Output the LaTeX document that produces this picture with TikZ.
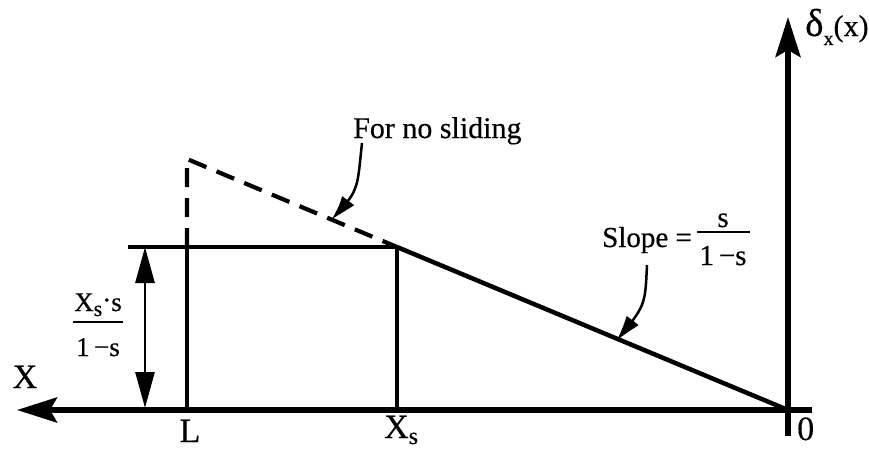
\documentclass[tikz,border=0pt]{standalone}
\usepackage{fontspec}
\setmainfont{Liberation Serif}[FakeBold=0.4]
\usetikzlibrary{arrows.meta,bending}
\begin{document}
\begin{tikzpicture}[x=1pt,y=-1pt,
  axisline/.style={line width=5.5pt},
  mainline/.style={line width=4.5pt},
  thinline/.style={line width=3.4pt},
  dashline/.style={line width=4.2pt,dash pattern=on 19pt off 11pt},
  dimline/.style={line width=2.8pt,{Triangle[length=36pt,width=19pt]}-{Triangle[length=36pt,width=19pt]}},
  leader/.style={line width=2.5pt,-{Triangle[length=28pt,width=14pt,bend]}},
  bigarrow/.style={-{Stealth[length=40pt,width=25pt,inset=7pt]}},
  lbl/.style={inner sep=0pt,font=\fontsize{30}{34}\selectfont},
  biglbl/.style={inner sep=0pt,font=\fontsize{34}{38}\selectfont},
  fraclbl/.style={inner sep=0pt,font=\fontsize{27}{30}\selectfont},
  fracbar/.style={line width=2.6pt}]
\useasboundingbox (0,0) rectangle (869,450);

% key points
\coordinate (O) at (788,410);
\coordinate (Xend) at (17,410);
\coordinate (Rend) at (812,410);
\coordinate (Ybot) at (788,436);
\coordinate (Ytop) at (788,17);
\coordinate (Lb) at (187,410);
\coordinate (Lt) at (187,247);
\coordinate (Lpeak) at (187,159);
\coordinate (Sb) at (397,410);
\coordinate (St) at (397,247);
\coordinate (Ext) at (128,247);
\coordinate (Dt) at (145,247);
\coordinate (Db) at (145,408);

% axes
\draw[axisline,bigarrow] (Rend) -- (Xend);
\draw[axisline,bigarrow] (Ybot) -- (Ytop);

% rectangle and lines
\draw[thinline] (Ext) -- (St);
\draw[thinline] (Lt) -- (Lb);
\draw[thinline] (St) -- (Sb);
\draw[mainline] (St) -- (O);
\draw[dashline] (Lt) -- (Lpeak) -- (St);

% dimension arrow
\draw[dimline] (Dt) -- (Db);

% labels
\node[lbl,anchor=base west] (nos) at (353,138) {For no sliding};
\coordinate (nosTip) at (332,219);
\draw[leader] (362,143) .. controls (357,188) and (360,190) .. (nosTip);

\node[lbl,font=\fontsize{29}{32}\selectfont,anchor=base west] (slope) at (602,247) {Slope =};
\node[fraclbl,font=\fontsize{29}{32}\selectfont,anchor=base] (sn) at (723,227) {s};
\draw[fracbar] (697,232) -- (750,232);
\node[fraclbl,font=\fontsize{29}{32}\selectfont,anchor=base] (sd) at (723,265) {1\,−s};
\coordinate (slTip) at (617,340);
\draw[leader] (647,265) .. controls (645,305) and (646,305) .. (slTip);

% left fraction
\node[fraclbl,anchor=base] (ln) at (98,311) {X\raisebox{-5pt}{\fontsize{22}{24}\selectfont s}\raisebox{2pt}{·}s};
\draw[fracbar] (73,322) -- (123,322);
\node[fraclbl,anchor=base] (ld) at (98,356) {1\,−s};

\node[biglbl,anchor=base] (xl) at (25,388) {X};
\node[biglbl,anchor=base] (ll) at (190,442) {L};
\node[biglbl,anchor=base west] (xs) at (384,438) {X\raisebox{-6pt}{\fontsize{24}{26}\selectfont s}};
\node[biglbl,anchor=base west] (zero) at (797,440) {0};
\node[biglbl,anchor=base west] (delta) at (805,36) {\fontsize{39}{40}\selectfont δ\raisebox{-9pt}{\fontsize{20}{22}\selectfont x}\fontsize{30}{32}\selectfont(x)};
\end{tikzpicture}
\end{document}
